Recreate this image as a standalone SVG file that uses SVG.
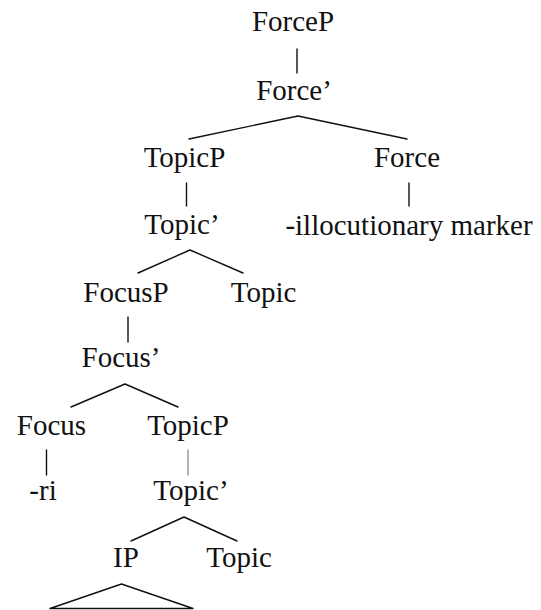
<svg xmlns="http://www.w3.org/2000/svg" width="541" height="610" viewBox="0 0 541 610">
  <style>
    .lbl { font-family: "Liberation Serif", "Times New Roman", serif; font-size: 29px; fill: #111; text-anchor: middle; }
    .edge { stroke: #111; stroke-width: 1.4; fill: none; stroke-linecap: round; stroke-linejoin: round; }
    .thin { stroke-width: 0.9; stroke: #555; }
  </style>
  <rect width="541" height="610" fill="#fff"/>

  <!-- tree branches -->
  <g id="connectors">
    <line class="edge" x1="297" y1="49" x2="297" y2="73"/>
    <polyline class="edge" points="189,139 298,116 407,139"/>
    <line class="edge" x1="186.5" y1="183" x2="186.5" y2="206"/>
    <line class="edge" x1="409" y1="183" x2="409" y2="206"/>
    <polyline class="edge" points="138,273 190,250 243,273"/>
    <line class="edge" x1="128" y1="317" x2="128" y2="342"/>
    <polyline class="edge" points="71,407 125,384 178,407"/>
    <line class="edge" x1="46.5" y1="450" x2="46.5" y2="475"/>
    <line class="edge thin" x1="188" y1="450" x2="188" y2="475"/>
    <polyline class="edge" points="131,541 184,517 237,541"/>
    <polygon class="edge" points="50,608.5 121.5,584 193,608.5"/>
  </g>

  <g id="ForceP"><text class="lbl" x="293" y="31">ForceP</text></g>
  <g id="ForceBar"><text class="lbl" x="294" y="100">Force’</text></g>
  <g id="TopicP1"><text class="lbl" x="184.5" y="167">TopicP</text></g>
  <g id="Force"><text class="lbl" x="407" y="167">Force</text></g>
  <g id="TopicBar1"><text class="lbl" x="182" y="234">Topic’</text></g>
  <g id="marker"><text class="lbl" x="409" y="235">-illocutionary marker</text></g>
  <g id="FocusP"><text class="lbl" x="126" y="302">FocusP</text></g>
  <g id="Topic1"><text class="lbl" x="263.5" y="302">Topic</text></g>
  <g id="FocusBar"><text class="lbl" x="121" y="367">Focus’</text></g>
  <g id="Focus"><text class="lbl" x="51.5" y="435">Focus</text></g>
  <g id="TopicP2"><text class="lbl" x="188" y="435">TopicP</text></g>
  <g id="ri"><text class="lbl" x="43" y="500">-ri</text></g>
  <g id="TopicBar2"><text class="lbl" x="191" y="500">Topic’</text></g>
  <g id="IP"><text class="lbl" x="126" y="567">IP</text></g>
  <g id="Topic2"><text class="lbl" x="239" y="567">Topic</text></g>
</svg>
